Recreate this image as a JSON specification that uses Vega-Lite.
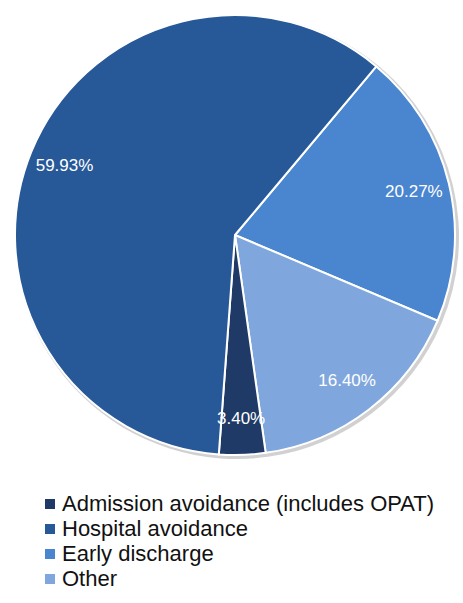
{
  "$schema": "https://vega.github.io/schema/vega-lite/v6.json",
  "width": 470,
  "height": 470,
  "padding": 0,
  "autosize": {"type": "pad"},
  "background": "white",
  "view": {"stroke": null},
  "data": {
    "values": [
      {"category": "Early discharge", "value": 20.27, "label": "20.27%", "ord": 1},
      {"category": "Other", "value": 16.40, "label": "16.40%", "ord": 2},
      {"category": "Admission avoidance (includes OPAT)", "value": 3.40, "label": "3.40%", "ord": 3},
      {"category": "Hospital avoidance", "value": 59.93, "label": "59.93%", "ord": 4}
    ]
  },
  "encoding": {
    "theta": {"field": "value", "type": "quantitative", "stack": true, "scale": {"range": [0.6976, 6.9808]}},
    "order": {"field": "ord", "type": "quantitative"}
  },
  "layer": [
    {
      "mark": {"type": "arc", "outerRadius": 222, "color": "#9a9a9a", "opacity": 0.45, "xOffset": 2, "yOffset": 2}
    },
    {
      "mark": {"type": "arc", "outerRadius": 220, "stroke": "white", "strokeWidth": 2},
      "encoding": {
        "color": {
          "field": "category",
          "type": "nominal",
          "scale": {
            "domain": ["Admission avoidance (includes OPAT)", "Hospital avoidance", "Early discharge", "Other"],
            "range": ["#1f3a66", "#275898", "#4a85cf", "#7fa7dd"]
          },
          "legend": {
            "title": null,
            "orient": "none",
            "legendX": 39,
            "legendY": 493,
            "symbolType": "square",
            "symbolSize": 100,
            "symbolStrokeWidth": 0,
            "labelFont": "Liberation Sans",
            "labelFontSize": 22,
            "labelColor": "#111111",
            "labelLimit": 500,
            "labelOffset": 1,
            "rowPadding": 3
          }
        }
      }
    },
    {
      "mark": {"type": "text", "radius": 184, "font": "Liberation Sans", "fontSize": 17, "color": "white"},
      "encoding": {
        "text": {"field": "label", "type": "nominal"}
      }
    }
  ]
}
